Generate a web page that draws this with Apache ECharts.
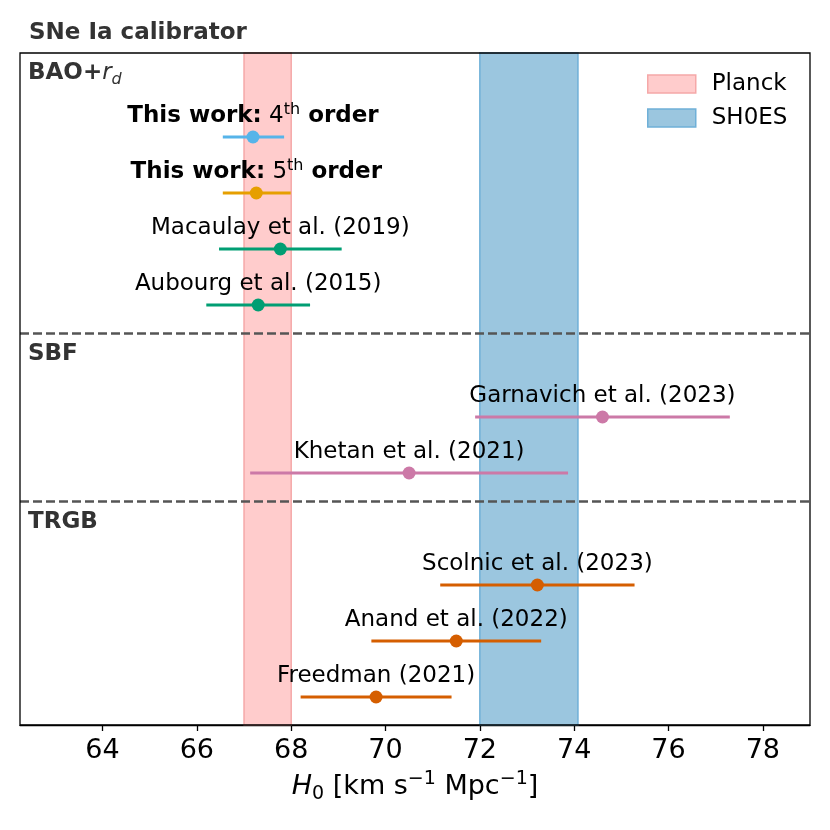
<!DOCTYPE html>
<html lang="en">
<head>
<meta charset="UTF-8">
<title>SNe Ia calibrator</title>
<script src="https://cdn.jsdelivr.net/npm/echarts@6.0.0/dist/echarts.min.js"></script>
<style>
  html, body { margin: 0; padding: 0; background: #fff; }
  #chart { width: 830px; height: 830px; }
</style>
</head>
<body>
<div id="chart"></div>
<script>
// H0 measurements, top row first
const names = [
  'This work: 4th order',
  'This work: 5th order',
  'Macaulay et al. (2019)',
  'Aubourg et al. (2015)',
  'Garnavich et al. (2023)',
  'Khetan et al. (2021)',
  'Scolnic et al. (2023)',
  'Anand et al. (2022)',
  'Freedman (2021)'
];
const h0 = [67.19, 67.26, 67.77, 67.3, 74.6, 70.5, 73.22, 71.5, 69.8];
const errLow = [0.64, 0.71, 1.30, 1.1, 2.7, 3.37, 2.06, 1.8, 1.6];
const errHigh = [0.66, 0.73, 1.30, 1.1, 2.7, 3.37, 2.06, 1.8, 1.6];
const rows = [10, 9, 8, 7, 5, 4, 2, 1, 0];

// group headings and separators
const groupNames = ['BAO+r_d', 'SBF', 'TRGB'];
const groupRows = [11.14, 6.12, 3.12];
const dividerRows = [6.5, 3.5];

// reference bands
const planck = [67.0, 68.0];
const shoes = [72.0, 74.08];

const xTicks = [64, 66, 68, 70, 72, 74, 76, 78];
const xMin = 62.25, xMax = 79.0;

// colours (Okabe-Ito), one per measurement
const pointColors = ['#56B4E9', '#E69F00', '#009E73', '#009E73', '#CC79A7', '#CC79A7', '#D55E00', '#D55E00', '#D55E00'];

const FONT = 'DejaVu Sans';

function pointLabel(s) {
  const m = s.match(/^This work: (\d)th order$/);
  if (m) return '{b|This work:}{n| ' + m[1] + '}{sup|th}{b| order}';
  return '{n|' + s + '}';
}

function groupLabel(s) {
  if (s === 'BAO+r_d') return '{b|BAO+}{it|r}{sub|d}';
  return '{b|' + s + '}';
}

function bandSeries(name, range, fill, edge) {
  return {
    name: name,
    type: 'custom',
    z: 1,
    silent: true,
    itemStyle: { color: fill, borderColor: edge, borderWidth: 1.5 },
    data: [range],
    renderItem: function (params, api) {
      const cs = params.coordSys;
      const x0 = api.coord([api.value(0), 0])[0];
      const x1 = api.coord([api.value(1), 0])[0];
      return {
        type: 'rect',
        shape: { x: x0, y: cs.y, width: x1 - x0, height: cs.height },
        style: { fill: fill, stroke: edge, lineWidth: 1.5 }
      };
    }
  };
}

const chart = echarts.init(document.getElementById('chart'), null, { renderer: 'canvas' });

chart.setOption({
  animation: false,
  backgroundColor: '#fff',
  textStyle: { fontFamily: FONT },
  title: {
    text: 'SNe Ia calibrator',
    left: 29,
    top: 22,
    padding: 0,
    textStyle: { fontFamily: FONT, fontSize: 23, fontWeight: 'bold', color: '#333' }
  },
  legend: {
    orient: 'vertical',
    left: 647,
    top: 72.5,
    padding: 0,
    itemWidth: 48,
    itemHeight: 18,
    itemGap: 11,
    icon: 'rect',
    textStyle: { fontFamily: FONT, fontSize: 23, color: '#000', padding: [0, 0, 0, 11] },
    data: [
      { name: 'Planck', itemStyle: { color: '#ffcccc', borderColor: '#f5a8a8', borderWidth: 1.5 } },
      { name: 'SH0ES', itemStyle: { color: '#9bc6df', borderColor: '#6fb0d8', borderWidth: 1.5 } }
    ]
  },
  grid: {
    left: 20,
    right: 20,
    top: 53,
    bottom: 105,
    show: true,
    z: 10,
    backgroundColor: 'transparent',
    borderColor: '#000',
    borderWidth: 1.3
  },
  xAxis: {
    type: 'value',
    min: xMin,
    max: xMax,
    name: '{i|H}{sub|0}{n| [km s}{sup|−1}{n| Mpc}{sup|−1}{n|]}',
    nameLocation: 'middle',
    nameGap: 45,
    nameTextStyle: {
      color: '#000',
      rich: {
        i: { fontFamily: FONT, fontStyle: 'italic', fontSize: 27, lineHeight: 34, color: '#000' },
        n: { fontFamily: FONT, fontSize: 27, lineHeight: 34, color: '#000' },
        sub: { fontFamily: FONT, fontSize: 19, lineHeight: 19, verticalAlign: 'bottom', color: '#000' },
        sup: { fontFamily: FONT, fontSize: 19, lineHeight: 19, verticalAlign: 'top', color: '#000' }
      }
    },
    splitLine: { show: false },
    axisLine: { show: true, onZero: false, lineStyle: { color: '#000', width: 1.3 } },
    axisTick: { show: true, length: 6, customValues: xTicks, lineStyle: { color: '#000', width: 1.3 } },
    axisLabel: { customValues: xTicks, fontFamily: FONT, fontSize: 27, color: '#000', margin: 12 }
  },
  yAxis: {
    type: 'value',
    min: -0.5,
    max: 11.5,
    show: false,
    splitLine: { show: false }
  },
  series: [
    bandSeries('Planck', planck, '#ffcccc', '#f5a8a8'),
    bandSeries('SH0ES', shoes, '#9bc6df', '#6fb0d8'),
    {
      name: 'errors',
      type: 'custom',
      z: 3,
      silent: true,
      encode: { x: [0, 1], y: 2 },
      data: names.map(function (n, i) { return [h0[i] - errLow[i], h0[i] + errHigh[i], rows[i]]; }),
      renderItem: function (params, api) {
        const y = api.value(2);
        const a = api.coord([api.value(0), y]);
        const b = api.coord([api.value(1), y]);
        return {
          type: 'line',
          shape: { x1: a[0], y1: a[1], x2: b[0], y2: b[1] },
          style: { stroke: pointColors[params.dataIndex], lineWidth: 3.2 }
        };
      },
      markLine: {
        silent: true,
        symbol: ['none', 'none'],
        label: { show: false },
        lineStyle: { type: [9, 4], color: '#555', width: 2.5 },
        data: dividerRows.map(function (y) { return { yAxis: y }; })
      }
    },
    {
      name: 'points',
      type: 'scatter',
      z: 4,
      silent: true,
      symbol: 'circle',
      symbolSize: 13,
      itemStyle: { opacity: 1 },
      data: names.map(function (n, i) {
        return { value: [h0[i], rows[i]], itemStyle: { color: pointColors[i] } };
      }),
      label: {
        show: true,
        position: 'inside',
        offset: [0, -20.5],
        formatter: function (p) { return pointLabel(names[p.dataIndex]); },
        rich: {
          b: { fontFamily: FONT, fontWeight: 'bold', fontSize: 23, lineHeight: 30, color: '#000' },
          n: { fontFamily: FONT, fontSize: 23, lineHeight: 30, color: '#000' },
          sup: { fontFamily: FONT, fontSize: 16, lineHeight: 16, verticalAlign: 'top', color: '#000' }
        }
      }
    },
    {
      name: 'groups',
      type: 'scatter',
      z: 5,
      silent: true,
      symbolSize: 0,
      itemStyle: { opacity: 1 },
      data: groupRows.map(function (r) { return [xMin, r]; }),
      label: {
        show: true,
        position: 'right',
        distance: 8,
        formatter: function (p) { return groupLabel(groupNames[p.dataIndex]); },
        rich: {
          b: { fontFamily: FONT, fontWeight: 'bold', fontSize: 23, lineHeight: 30, color: '#333' },
          it: { fontFamily: FONT, fontStyle: 'italic', fontSize: 23, lineHeight: 30, color: '#333' },
          sub: { fontFamily: FONT, fontStyle: 'italic', fontSize: 16, lineHeight: 16, verticalAlign: 'bottom', color: '#333' }
        }
      }
    }
  ]
});
</script>
</body>
</html>
